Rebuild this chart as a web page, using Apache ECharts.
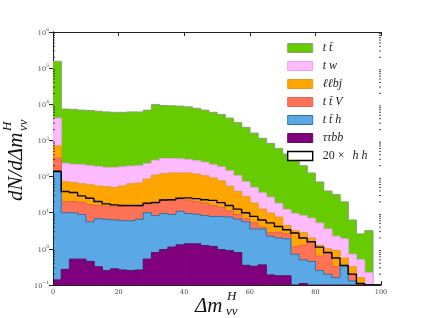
<!DOCTYPE html>
<html>
<head>
<meta charset="utf-8">
<script src="https://cdn.jsdelivr.net/npm/echarts@6/dist/echarts.min.js"></script>
<style>html,body{margin:0;padding:0;background:#fff}#c{width:424px;height:318px}</style>
</head>
<body>
<div id="c"></div>
<script>
// ---- data: cumulative (stacked) heights per bin, bins of width 2.5 from 0 to 100 ----
const binWidth = 2.5;
const nBins = 40;
const binStarts = Array.from({length: nBins}, (_, i) => i * binWidth);
const xTicks = [0, 20, 40, 60, 80, 100];

const ttbar = [155000,7400,7250,6900,6750,6450,6150,6000,6000,6150,6150,6900,9800,9300,9100,8900,8500,7750,6900,6000,
  5250,4150,3150,2300,1600,1150,830,600,420,280,200,126,71,40,32,20,6.3,2.6,3.2,0];
const tw = [4170,234,219,214,200,190,178,178,186,195,200,229,282,316,316,309,295,275,251,214,
  186,145,107,72,50,35.5,27,18.2,12.3,9.5,8.3,7.1,5.2,3.55,2.24,1.9,0.71,0.5,0.22,0];
const llbj = [708,72,68,63,59,55,52.5,50,55,63,66,85,110,120,126,126,126,117,105,91,
  76,54,39,28,18.6,12.6,9.8,7.6,4.4,3.16,2.8,2.0,1.26,1.0,0.89,0.56,0.32,0.16,0,0];
const ttV = [324,20.4,20.4,19,16.6,15.8,15.1,14.8,14.8,14.8,14.8,16.6,20,22.4,21.4,23.4,22.4,20.4,18.6,15.8,
  14.1,11.2,8.9,6.8,5.25,4.0,2.8,2.8,2.6,1.12,1.26,1.58,0.63,0.79,0.32,0.35,0.2,0,0,0];
const tth = [132,10,10,8.9,5.6,6.8,6.6,6.3,6.0,6.0,6.6,10,8.3,9.5,8.9,11,9.5,9.1,8.3,7.9,
  7.9,7.6,6.6,5.6,3.55,3.55,2.24,2.0,1.9,0.71,0.5,0.45,0.25,0.2,0.16,0.32,0.13,0,0,0];
const tautaubb = [0.138,0.27,0.52,0.52,0.45,0.32,0.25,0.28,0.26,0.25,0.26,0.52,0.79,0.95,1.12,1.29,1.38,1.38,1.23,1.17,
  0.95,0.89,0.79,0.35,0.33,0.36,0.19,0.18,0.18,0,0.11,0,0,0,0,0,0,0,0,0];
const hh20 = [141,38.5,36.3,29.2,25.1,20.4,17.6,16.5,15.8,15.8,15.8,18.2,19,22.4,22.9,25.1,25.7,24.5,22.9,21.9,
  19,15.8,12.6,10,7.9,6.3,5.25,4.17,3.39,2.75,2.0,1.58,1.12,0.79,0.56,0.35,0.2,0.11,0,0];

const names = ['t t\u0304', 't w', '\u2113\u2113bj', 't t\u0304 V', 't t\u0304 h', '\u03c4\u03c4bb', '20 \u00d7 h h'];

const YMIN = 0.1, YMAX = 1e6;
const MATH = 'Liberation Serif';

function layer(name, vals, fill, edge, lw) {
  const data = vals.map((v, i) => [binStarts[i], binStarts[i] + binWidth, v, i > 0 ? vals[i - 1] : 0]);
  return {
    type: 'custom', name, data, clip: true,
    itemStyle: {color: fill || '#fff', borderColor: edge},
    encode: {x: [0, 1], y: 2},
    renderItem: (params, api) => {
      const x0 = api.value(0), x1 = api.value(1), v = api.value(2), pv = api.value(3);
      const top = Math.max(v, YMIN), ptop = Math.max(pv, YMIN);
      const a = api.coord([x0, top]), b = api.coord([x1, YMIN]), c = api.coord([x0, ptop]);
      const ch = [];
      if (fill && v > YMIN) ch.push({type: 'rect', shape: {x: a[0], y: a[1], width: b[0] - a[0] + 0.6, height: b[1] - a[1]}, style: {fill}});
      ch.push({type: 'polyline', shape: {points: [c, [a[0], a[1]], [b[0], a[1]]]}, style: {stroke: edge, lineWidth: lw, fill: null}});
      return {type: 'group', children: ch};
    }
  };
}

// minor log ticks (2..9 x 10^n)
const minorVals = [];
for (let e = -1; e < 6; e++) for (let m = 2; m <= 9; m++) minorVals.push(m * Math.pow(10, e));

const chart = echarts.init(document.getElementById('c'), null, {renderer: 'canvas'});
const supLabel = v => {
  const e = Math.round(Math.log10(v));
  return '{b|10}{s|' + (e < 0 ? '\u2212' + (-e) : e) + '}';
};
const axLine = {show: true, lineStyle: {color: '#222', width: 1}};
const richTick = {
  b: {fontSize: 6.5, fontFamily: 'DejaVu Serif', color: '#444', lineHeight: 9, verticalAlign: 'bottom'},
  s: {fontSize: 4.5, fontFamily: 'DejaVu Serif', color: '#444', lineHeight: 9, verticalAlign: 'top'}
};

const legendColors = [
  ['#66cc00', '#8aa37a'], ['#ffbbff', '#eaa0ea'], ['#ffa500', '#e89a20'], ['#ff7256', '#e06555'],
  ['#5aa9e6', '#2f73a6'], ['#800080', '#5a105a'], ['#ffffff', '#000000']
];

function mtext(x, y, s, size) {
  return {type: 'text', x, y, style: {text: s, font: 'italic ' + size + 'px "' + MATH + '"', fill: '#111', align: 'left', verticalAlign: 'middle'}};
}

chart.setOption({
  animation: false,
  grid: {left: 53, right: 43, top: 32, bottom: 33},
  xAxis: [
    {type: 'value', min: 0, max: 100, interval: 20, axisLine: axLine,
     axisTick: {inside: true, length: 4, lineStyle: {color: '#222'}},
     axisLabel: {fontSize: 6.5, fontFamily: 'DejaVu Serif', color: '#444', margin: 4},
     splitLine: {show: false}},
    {type: 'value', min: 0, max: 100, interval: 20, position: 'top', axisLine: axLine,
     axisTick: {inside: true, length: 4, lineStyle: {color: '#222'}},
     axisLabel: {show: false}, splitLine: {show: false}}
  ],
  yAxis: [
    {type: 'log', logBase: 10, min: YMIN, max: YMAX, splitNumber: 7, axisLine: axLine,
     axisTick: {inside: true, length: 4, lineStyle: {color: '#222'}},
     axisLabel: {formatter: supLabel, rich: richTick, margin: 4},
     splitLine: {show: false}},
    {type: 'log', logBase: 10, min: YMIN, max: YMAX, splitNumber: 7, position: 'right', axisLine: axLine,
     axisTick: {inside: true, length: 4, lineStyle: {color: '#222'}},
     axisLabel: {show: false}, splitLine: {show: false}}
  ],
  legend: {
    orient: 'vertical', left: 287, top: 42, padding: 0, itemWidth: 25, itemHeight: 9, itemGap: 6,
    selectedMode: false,
    data: names.map((n, i) => ({name: n, icon: 'rect',
      itemStyle: {color: legendColors[i][0], borderColor: legendColors[i][1], borderWidth: i === 6 ? 1.4 : 1}})),
    formatter: n => n === names[6] ? '{u|20 \u00d7}{i| h h}' : '{i|' + n + '}',
    textStyle: {lineHeight: 12, rich: {
      i: {fontFamily: MATH, fontStyle: 'italic', fontSize: 12, color: '#222', padding: [0, 0, 0, 5], lineHeight: 12},
      u: {fontFamily: MATH, fontSize: 12, color: '#222', padding: [0, 0, 0, 5], lineHeight: 12}
    }}
  },
  series: [
    layer(names[0], ttbar, '#66cc00', '#8aa37a', 1),
    layer(names[1], tw, '#ffbbff', '#eaa0ea', 1),
    layer(names[2], llbj, '#ffa500', '#e89a20', 1),
    layer(names[3], ttV, '#ff7256', '#e06555', 1),
    layer(names[4], tth, '#5aa9e6', '#2f73a6', 1),
    layer(names[5], tautaubb, '#800080', '#5a105a', 1),
    layer(names[6], hh20, null, '#000000', 1.4),
    {type: 'custom', name: 'minor', data: minorVals.map(v => [0, v]), encode: {x: 0, y: 1}, silent: true,
     renderItem: (params, api) => {
       const v = api.value(1);
       const l = api.coord([0, v]), r = api.coord([100, v]);
       return {type: 'group', children: [
         {type: 'line', shape: {x1: l[0], y1: l[1], x2: l[0] + 2, y2: l[1]}, style: {stroke: '#222', lineWidth: 0.8}},
         {type: 'line', shape: {x1: r[0], y1: r[1], x2: r[0] - 2, y2: r[1]}, style: {stroke: '#222', lineWidth: 0.8}}
       ]};
     }}
  ],
  graphic: [
    {type: 'group', x: 23, y: 201, rotation: Math.PI / 2, children: [
      mtext(0, -7, 'dN/d\u0394m', 21),
      mtext(70, -15, 'H', 13),
      mtext(70, 1, '\u03bd\u03bd', 13)
    ]},
    {type: 'group', x: 195, y: 313, children: [
      mtext(0, -7, '\u0394m', 21),
      mtext(32, -16, 'H', 13),
      mtext(31, -1, '\u03bd\u03bd', 13)
    ]}
  ]
});
</script>
</body>
</html>
